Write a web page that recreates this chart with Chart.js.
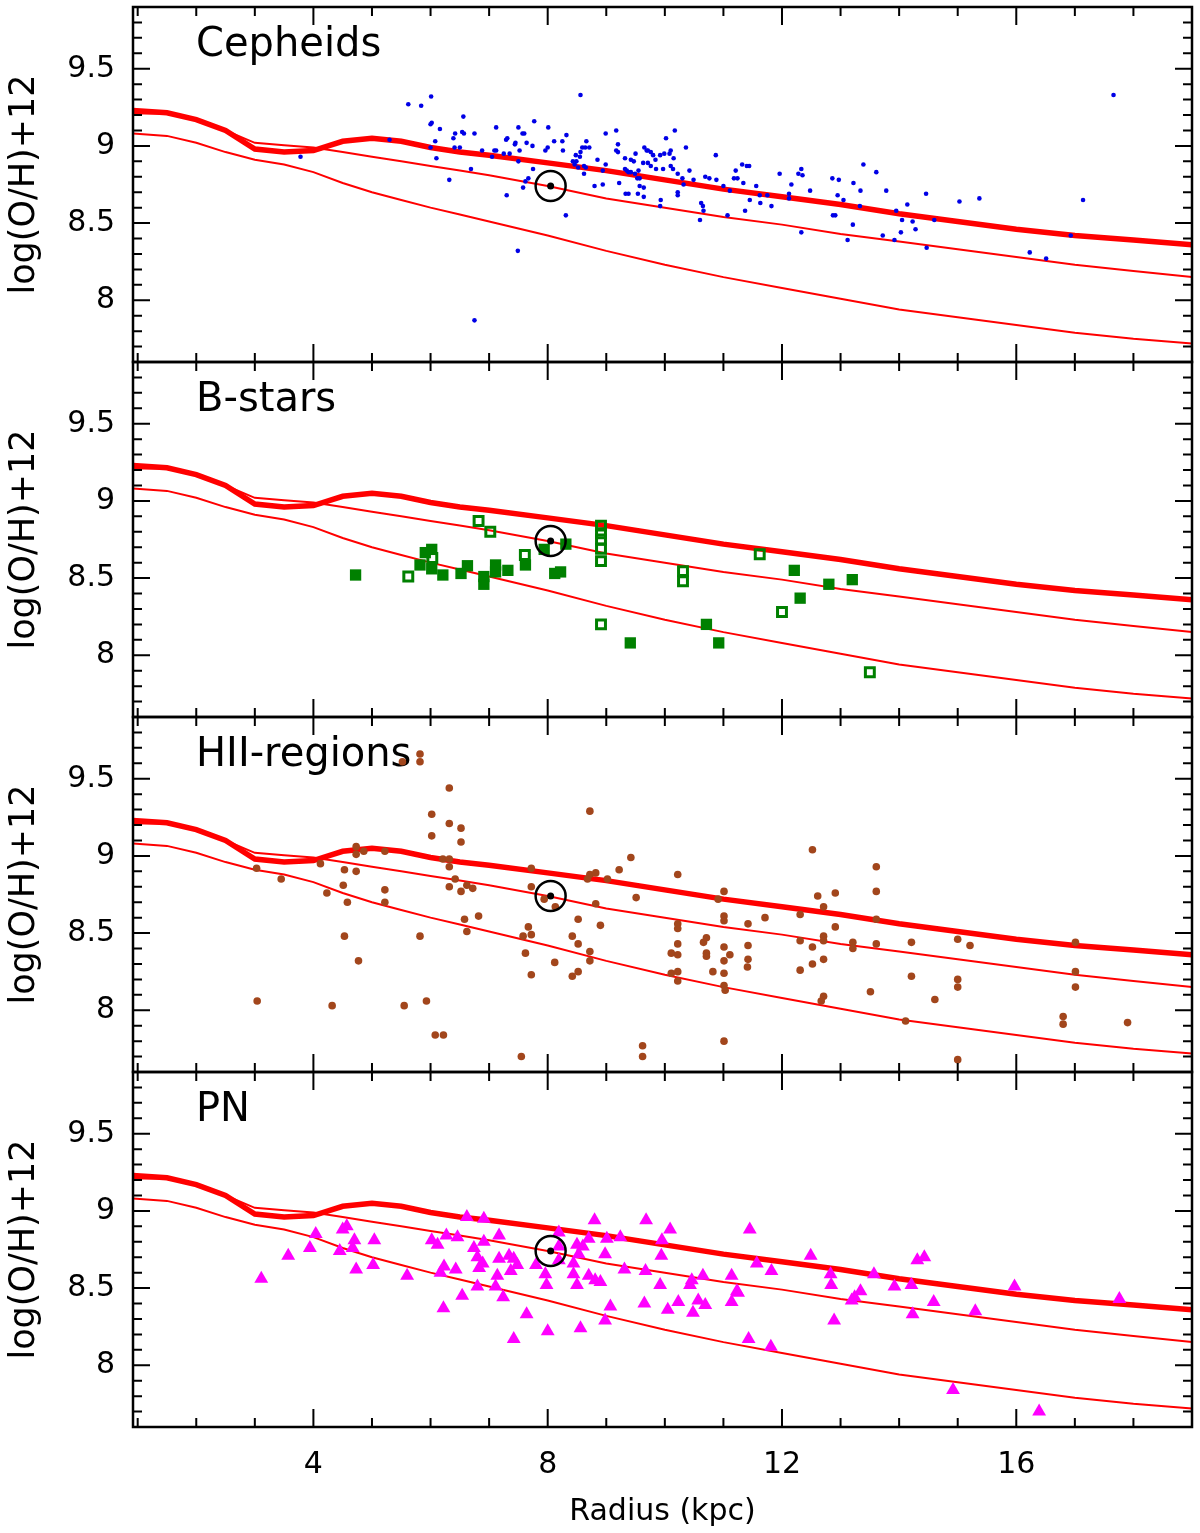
<!DOCTYPE html>
<html><head><meta charset="utf-8">
<script src="https://cdn.jsdelivr.net/npm/chart.js@4/dist/chart.umd.min.js"></script>
<style>
html,body{margin:0;padding:0;background:#fff;}
#wrap{position:relative;width:1200px;height:1533px;background:#fff;}
canvas{position:absolute;left:0;top:0;}
</style></head><body>
<div id="wrap">
<canvas id="c0" width="1200" height="1533"></canvas>
<canvas id="c1" width="1200" height="1533"></canvas>
<canvas id="c2" width="1200" height="1533"></canvas>
<canvas id="c3" width="1200" height="1533"></canvas>
</div>
<script>
// ---------- labels / ticks ----------
const panelNames = ['Cepheids', 'B-stars', 'HII-regions', 'PN'];
const xTickLabels = [4, 8, 12, 16];
const yTickLabels = [8, 8.5, 9, 9.5];
const xTitle = 'Radius (kpc)';
const yTitle = 'log(O/H)+12';

// ---------- model gradients ----------
const modelR =     [0.92, 1.5, 2, 2.5, 3, 3.5, 4, 4.5, 5, 5.5, 6, 6.5, 7, 8, 9, 10, 11, 12, 13, 14, 15, 16, 17, 18, 19];
const modelThick = [9.23, 9.215, 9.17, 9.10, 8.98, 8.96, 8.97, 9.03, 9.05, 9.03, 8.99, 8.96, 8.94, 8.89, 8.84, 8.78, 8.72, 8.67, 8.62, 8.56, 8.51, 8.46, 8.42, 8.39, 8.36];
const modelMid =   [9.21, 9.21, 9.17, 9.10, 9.02, 9.005, 8.99, 8.96, 8.93, 8.90, 8.87, 8.84, 8.81, 8.74, 8.66, 8.60, 8.54, 8.49, 8.43, 8.38, 8.33, 8.28, 8.23, 8.19, 8.15];
const modelLow =   [9.08, 9.065, 9.02, 8.96, 8.91, 8.88, 8.83, 8.76, 8.70, 8.65, 8.60, 8.555, 8.51, 8.42, 8.32, 8.23, 8.15, 8.08, 8.01, 7.94, 7.89, 7.84, 7.79, 7.75, 7.72];

// ---------- Sun ----------
const sunR = [8.05];
const sunOH = [8.74];

// ---------- Cepheids ----------
const cephR = [3.78,6.01,5.62,5.84,8.56,6.56,6.00,6.02,6.16,7.77,7.12,7.50,8.01,6.54,6.57,6.42,6.75,6.08,6.39,7.31,7.29,7.45,7.44,7.57,7.60,7.64,7.74,8.11,8.25,8.32,8.99,9.17,10.17,10.02,9.20,8.66,8.71,8.59,8.64,6.00,6.41,6.50,6.88,7.09,7.12,7.52,7.96,8.00,8.26,8.56,8.55,8.49,8.43,8.46,8.52,8.62,8.65,8.85,8.94,9.17,9.20,9.32,9.42,9.50,9.47,9.65,9.69,9.76,9.71,9.80,9.92,9.99,10.10,10.08,10.15,10.36,10.87,6.10,7.05,7.25,7.35,7.50,6.69,7.75,8.62,8.99,9.63,9.71,9.76,9.84,9.85,9.97,10.10,10.14,10.22,10.30,10.42,10.49,10.69,10.76,10.88,11.00,11.11,11.18,11.21,11.24,11.32,11.40,11.44,11.34,11.56,11.45,11.62,11.63,11.75,11.82,11.96,12.16,12.28,12.12,12.12,9.32,9.35,9.38,9.42,9.49,9.55,9.57,9.53,9.57,9.64,9.64,9.54,9.33,9.38,9.22,8.80,8.94,9.93,9.92,10.22,10.22,10.32,10.62,10.65,10.66,10.60,11.07,11.37,6.32,7.67,7.62,7.58,7.30,8.31,7.49,6.75,5.30,8.48,12.33,12.35,12.48,12.33,12.86,12.97,13.22,13.39,13.61,12.95,13.05,13.34,13.33,12.87,12.91,13.21,13.12,13.78,13.72,13.92,13.95,14.14,14.05,14.03,14.23,14.28,14.46,14.60,14.47,15.03,15.37,16.23,16.51,16.93,17.14,17.66];
const cephOH = [8.93,9.32,9.27,9.26,9.33,9.19,9.14,9.15,9.11,9.16,9.12,9.12,9.12,9.09,9.08,9.08,9.08,9.03,9.05,9.05,9.04,9.02,9.01,9.08,9.08,9.02,9.00,9.03,9.03,9.07,9.08,9.10,9.10,9.05,9.01,9.03,8.99,8.99,8.99,8.99,8.99,8.99,8.97,8.97,8.97,8.97,8.97,8.99,8.97,8.96,8.93,8.90,8.90,8.88,8.86,8.87,8.86,8.91,8.84,8.97,8.96,8.92,8.91,8.95,8.90,8.99,8.97,8.96,8.97,8.94,8.94,8.95,8.97,8.95,8.92,8.99,8.94,8.92,8.93,8.95,8.95,8.90,8.85,8.85,8.82,8.88,8.89,8.89,8.87,8.91,8.85,8.85,8.87,8.85,8.82,8.79,8.84,8.78,8.80,8.79,8.78,8.74,8.71,8.79,8.84,8.79,8.88,8.87,8.87,8.76,8.74,8.65,8.68,8.63,8.68,8.61,8.82,8.75,8.82,8.69,8.66,8.85,8.84,8.83,8.83,8.82,8.84,8.79,8.79,8.74,8.73,8.67,8.69,8.69,8.69,8.76,8.74,8.75,8.65,8.61,8.70,8.68,8.75,8.63,8.61,8.58,8.52,8.55,8.58,8.78,8.79,8.77,8.73,8.68,8.55,8.32,7.87,9.04,8.94,8.85,8.81,8.71,8.44,8.79,8.78,8.76,8.88,8.83,8.68,8.65,8.71,8.61,8.55,8.55,8.49,8.39,8.71,8.42,8.39,8.58,8.62,8.52,8.44,8.51,8.46,8.69,8.52,8.34,8.64,8.66,8.31,8.27,8.42,8.65,9.33];

// ---------- B-stars ----------
const bFilledR =  [4.72,5.82,5.91,6.02,6.02,6.21,6.52,6.63,6.91,6.91,7.11,7.11,7.32,7.62,7.94,8.31,8.12,8.22,9.41,10.71,10.92,12.21,12.31,12.80,13.20];
const bFilledOH = [8.52,8.585,8.665,8.686,8.56,8.52,8.53,8.58,8.51,8.46,8.585,8.54,8.55,8.585,8.686,8.72,8.53,8.54,8.08,8.20,8.08,8.55,8.37,8.46,8.49];
const bOpenR =  [6.82,7.02,7.61,6.03,5.62,8.91,8.91,8.91,8.91,8.91,8.91,10.31,10.31,11.62,12.00,13.50];
const bOpenOH = [8.87,8.80,8.65,8.63,8.51,8.84,8.79,8.75,8.69,8.61,8.20,8.545,8.48,8.654,8.28,7.89];

// ---------- HII regions ----------
const hiiR = [5.52,5.82,5.82,6.32,6.02,6.32,6.52,6.02,6.52,8.72,9.42,9.22,10.22,4.73,4.73,4.86,5.22,4.12,4.53,4.73,4.51,4.23,4.58,5.22,5.22,3.03,3.45,4.53,4.77,3.04,4.32,5.55,5.93,6.08,6.22,5.82,6.21,6.32,6.32,6.42,6.32,6.62,6.72,6.52,6.58,6.82,6.62,7.72,7.72,7.94,8.13,7.67,7.58,7.72,7.62,7.72,7.55,8.12,8.52,8.42,8.52,8.72,8.72,8.52,8.42,8.90,8.82,8.72,8.82,8.68,9.02,9.51,9.62,9.62,10.22,10.22,10.22,10.11,10.22,10.11,10.22,10.22,10.66,10.71,10.71,10.71,10.82,11.01,10.91,11.01,11.01,11.01,11.01,11.11,11.01,11.01,11.03,11.01,11.42,11.42,11.42,11.41,11.71,12.31,12.31,12.31,12.52,12.61,12.71,12.91,12.91,12.71,12.71,12.52,12.52,12.71,12.71,12.67,13.21,13.21,13.61,13.61,13.61,13.61,13.51,14.11,14.21,14.21,14.61,15.00,15.21,15.00,15.00,15.00,17.01,17.01,17.01,16.80,16.80,17.90];
const hiiOH = [9.61,9.61,9.66,9.44,9.27,9.21,9.18,9.13,9.09,9.29,8.99,8.91,8.88,9.06,9.01,9.03,9.03,8.95,8.91,8.90,8.81,8.76,8.70,8.78,8.70,8.92,8.85,8.48,8.32,8.06,8.03,8.03,8.06,7.84,7.84,8.48,8.98,8.98,8.93,8.85,8.80,8.81,8.79,8.77,8.59,8.61,8.51,8.92,8.80,8.72,8.67,8.54,8.48,8.49,8.37,8.23,7.70,8.31,8.59,8.48,8.43,8.38,8.32,8.25,8.22,8.55,8.69,8.88,8.89,8.85,8.85,8.73,7.77,7.70,8.56,8.53,8.43,8.37,8.36,8.24,8.25,8.19,8.44,8.47,8.37,8.35,8.25,8.77,8.72,8.61,8.58,8.41,8.32,8.36,8.24,8.16,8.13,7.80,8.56,8.42,8.33,8.28,8.60,8.62,8.45,8.26,9.04,8.74,8.67,8.76,8.54,8.48,8.45,8.41,8.30,8.33,8.09,8.06,8.44,8.40,8.93,8.77,8.59,8.43,8.12,7.93,8.44,8.22,8.07,8.46,8.42,8.20,8.15,7.68,8.44,8.25,8.15,7.96,7.91,7.92];

// ---------- Planetary nebulae ----------
const pnR = [3.11,3.57,3.94,4.04,4.50,4.57,4.70,4.67,4.45,5.04,4.73,5.02,5.60,6.02,6.12,6.27,6.46,6.62,6.91,7.17,6.91,6.74,6.80,6.89,6.83,7.17,7.34,7.42,7.48,7.37,7.14,7.11,6.80,6.43,6.23,6.17,6.54,6.22,7.24,7.64,7.42,8.00,7.98,7.96,7.80,8.19,8.19,8.19,8.50,8.60,8.70,8.53,8.44,8.44,8.50,8.70,8.81,8.90,8.80,9.01,8.98,9.24,9.07,8.98,8.56,9.31,9.67,9.68,10.09,9.95,9.94,9.92,9.65,10.05,10.23,10.46,10.43,10.65,10.48,10.57,10.69,11.45,11.57,11.82,11.14,11.23,11.25,11.14,11.43,11.81,12.49,12.83,12.84,13.19,13.24,13.34,12.89,13.57,13.92,14.21,14.31,14.43,14.23,14.59,15.30,15.97,14.92,16.39,17.76];
const pnOH = [8.56,8.71,8.76,8.85,8.88,8.90,8.81,8.76,8.74,8.81,8.62,8.65,8.58,8.81,8.78,8.84,8.83,8.96,8.95,8.84,8.80,8.76,8.70,8.66,8.63,8.69,8.71,8.69,8.65,8.61,8.58,8.51,8.51,8.62,8.64,8.60,8.45,8.37,8.44,8.33,8.17,8.22,8.52,8.59,8.65,8.86,8.77,8.68,8.78,8.77,8.82,8.72,8.66,8.59,8.52,8.58,8.55,8.54,8.94,8.82,8.72,8.83,8.38,8.29,8.24,8.62,8.61,8.94,8.88,8.81,8.71,8.52,8.40,8.36,8.41,8.55,8.52,8.58,8.34,8.42,8.39,8.88,8.66,8.61,8.58,8.48,8.47,8.41,8.17,8.12,8.71,8.59,8.52,8.42,8.44,8.48,8.29,8.59,8.51,8.52,8.68,8.70,8.33,8.41,8.35,8.51,7.84,7.70,8.43];

// ---------- helpers ----------
const FONT = '"DejaVu Sans", "Liberation Sans", sans-serif';
const pts = (xs, ys) => xs.map((x, i) => ({x: x, y: ys[i]}));

const panelData = [
  [{data: pts(cephR, cephOH), pointStyle: 'circle', pointRadius: 2.3, pointBackgroundColor: '#0000e6', pointBorderWidth: 0}],
  [{data: pts(bFilledR, bFilledOH), pointStyle: 'rect', pointRadius: 8, pointBackgroundColor: '#008000', pointBorderWidth: 0},
   {data: pts(bOpenR, bOpenOH), pointStyle: 'rect', pointRadius: 6.3, pointBackgroundColor: 'rgba(255,255,255,0)', pointBorderColor: '#008000', pointBorderWidth: 3}],
  [{data: pts(hiiR, hiiOH), pointStyle: 'circle', pointRadius: 3.8, pointBackgroundColor: '#a2461c', pointBorderWidth: 0}],
  [{data: pts(pnR, pnOH), pointStyle: 'triangle', pointRadius: 8, pointBackgroundColor: '#ff00ff', pointBorderWidth: 0}]
];

const framePlugin = {
  id: 'frame',
  beforeDatasetsDraw(chart, args, opts) {
    const {ctx, chartArea: a} = chart;
    ctx.save();
    ctx.fillStyle = '#000';
    ctx.font = '40px ' + FONT;
    ctx.textBaseline = 'alphabetic';
    ctx.textAlign = 'left';
    ctx.fillText(opts.label, a.left + 63, a.top + 49);
    ctx.restore();
  },
  afterDraw(chart) {
    const {ctx, chartArea: a, scales} = chart;
    const x = scales.x, y = scales.y;
    ctx.save();
    ctx.strokeStyle = '#000';
    ctx.lineWidth = 2;
    ctx.beginPath();
    for (let v = 1; v <= 18; v++) {
      const px = x.getPixelForValue(v);
      const L = (v % 4 === 0) ? 18 : 9;
      ctx.moveTo(px, a.bottom); ctx.lineTo(px, a.bottom - L);
      ctx.moveTo(px, a.top); ctx.lineTo(px, a.top + L);
    }
    for (let k = 77; k <= 98; k++) {
      const py = y.getPixelForValue(k / 10);
      const L = (k % 5 === 0) ? 17 : 9;
      ctx.moveTo(a.left, py); ctx.lineTo(a.left + L, py);
      ctx.moveTo(a.right, py); ctx.lineTo(a.right - L, py);
    }
    ctx.stroke();
    ctx.lineWidth = 2.5;
    ctx.strokeRect(a.left, a.top, a.right - a.left, a.bottom - a.top);
    ctx.restore();
  }
};

const PANEL_TOP = 7, PANEL_H = 355;

for (let i = 0; i < 4; i++) {
  const isBottom = (i === 3);
  const top = PANEL_TOP + PANEL_H * i;
  const bottomPad = isBottom ? 0 : (1533 - (top + PANEL_H));
  const lineSets = [
    {data: pts(modelR, modelThick), borderColor: '#ff0000', borderWidth: 5.5},
    {data: pts(modelR, modelMid), borderColor: '#ff0000', borderWidth: 2},
    {data: pts(modelR, modelLow), borderColor: '#ff0000', borderWidth: 2}
  ].map(d => Object.assign(d, {type: 'line', showLine: true, pointRadius: 0, tension: 0, fill: false, order: 10}));
  const marks = panelData[i].map(d => Object.assign({}, d, {showLine: false, order: 5}));
  const sun = [
    {data: pts(sunR, sunOH), pointStyle: 'circle', pointRadius: 15, pointBackgroundColor: 'rgba(0,0,0,0)', pointBorderColor: '#000', pointBorderWidth: 2.5, showLine: false, order: 2},
    {data: pts(sunR, sunOH), pointStyle: 'circle', pointRadius: 3.5, pointBackgroundColor: '#000', pointBorderWidth: 0, showLine: false, order: 1}
  ];
  new Chart(document.getElementById('c' + i), {
    type: 'scatter',
    data: {datasets: lineSets.concat(marks, sun)},
    plugins: [framePlugin],
    options: {
      responsive: false,
      animation: false,
      devicePixelRatio: 1,
      events: [],
      layout: {autoPadding: false, padding: {top: top, right: 8, bottom: bottomPad, left: 0}},
      plugins: {
        legend: {display: false},
        tooltip: {enabled: false},
        frame: {label: panelNames[i]}
      },
      scales: {
        x: {
          type: 'linear', min: 0.92, max: 19,
          grid: {display: false, drawTicks: false},
          border: {display: false},
          afterBuildTicks: s => { s.ticks = xTickLabels.map(v => ({value: v})); },
          afterFit: s => { s.height = isBottom ? 106 : 0; s.paddingLeft = 0; s.paddingRight = 0; },
          ticks: {display: isBottom, color: '#000', padding: 20, font: {family: FONT, size: 30}, maxRotation: 0,
                  callback: v => String(v)},
          title: {display: isBottom, text: xTitle, color: '#000', font: {family: FONT, size: 30, lineHeight: 1}, padding: {top: 0, bottom: 6}}
        },
        y: {
          type: 'linear', min: 7.6, max: 9.9,
          grid: {display: false, drawTicks: false},
          border: {display: false},
          afterBuildTicks: s => { s.ticks = yTickLabels.map(v => ({value: v})); },
          afterFit: s => { s.width = 133; s.paddingTop = 0; s.paddingBottom = 0; },
          ticks: {color: '#000', padding: 18, font: {family: FONT, size: 30}, callback: v => String(v)},
          title: {display: true, text: yTitle, color: '#000', font: {family: FONT, size: 35, lineHeight: 1}, padding: {top: 7, bottom: 0}}
        }
      }
    }
  });
}
</script>
</body></html>
